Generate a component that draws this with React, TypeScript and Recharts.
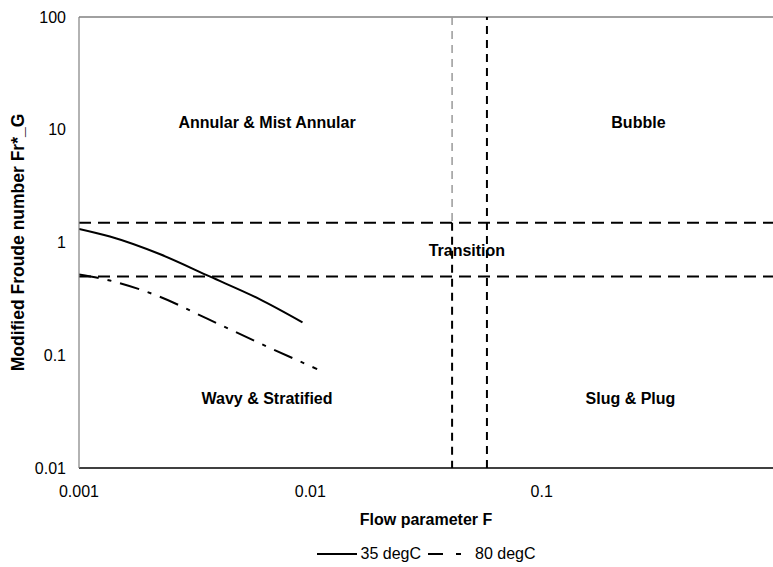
import React from 'react';
import {
  LineChart,
  Line,
  XAxis,
  YAxis,
  ReferenceLine,
  ReferenceDot,
  Legend,
  Label,
} from 'recharts';

// Axis ticks (log scales)
const xTicks = [0.001, 0.01, 0.1];
const yTicks = [0.01, 0.1, 1, 10, 100];

// Flow-pattern curves: flow parameter F vs. modified Froude number Fr*_G
const f35 = [0.001, 0.00136, 0.00223, 0.00367, 0.00603, 0.00925];
const fr35 = [1.32, 1.13, 0.79, 0.5, 0.315, 0.196];
const f80 = [0.001, 0.00136, 0.00223, 0.0036, 0.00603, 0.0107];
const fr80 = [0.52, 0.46, 0.331, 0.21, 0.128, 0.0754];

// Regime boundaries
const frBounds = [1.5, 0.5];
const fBounds = [0.041, 0.058];

// Regime names and where they sit (F, Fr*_G)
const regimeNames = ['Annular & Mist Annular', 'Bubble', 'Transition', 'Wavy & Stratified', 'Slug & Plug'];
const regimeF = [0.0065, 0.262, 0.0475, 0.0065, 0.242];
const regimeFr = [11.7, 11.7, 0.85, 0.041, 0.041];

const series35 = f35.map((x, i) => ({ x, y: fr35[i] }));
const series80 = f80.map((x, i) => ({ x, y: fr80[i] }));

const FONT = 'Arial, "Liberation Sans", sans-serif';

const YTitle = (props: any) => {
  const { viewBox } = props;
  const cx = viewBox.x + 18;
  const cy = viewBox.y + viewBox.height / 2;
  return (
    <text
      x={cx}
      y={cy}
      transform={`rotate(-90 ${cx} ${cy})`}
      textAnchor="middle"
      dominantBaseline="central"
      fontFamily={FONT}
      fontSize={17.5}
      fontWeight="bold"
      fill="#000"
    >
      Modified Froude number Fr*_G
    </text>
  );
};

const XTitle = (props: any) => {
  const { viewBox } = props;
  const cx = viewBox.x + viewBox.width / 2;
  const cy = viewBox.y + 51;
  return (
    <text
      x={cx}
      y={cy}
      textAnchor="middle"
      dominantBaseline="central"
      fontFamily={FONT}
      fontSize={16}
      fontWeight="bold"
      fill="#000"
    >
      Flow parameter F
    </text>
  );
};

const LegendContent = () => (
  <div
    style={{
      display: 'flex',
      justifyContent: 'center',
      alignItems: 'center',
      fontFamily: FONT,
      fontSize: 16,
      color: '#000',
    }}
  >
    <svg width={40} height={10}>
      <line x1={0} y1={5} x2={40} y2={5} stroke="#000" strokeWidth={2} />
    </svg>
    <span style={{ marginLeft: 4, marginRight: 7 }}>35 degC</span>
    <svg width={40} height={10}>
      <line x1={0} y1={5} x2={40} y2={5} stroke="#000" strokeWidth={2} strokeDasharray="15 13 5 20" />
    </svg>
    <span style={{ marginLeft: 7 }}>80 degC</span>
  </div>
);

const RegimeText = (name: string) => (p: any) => (
  <text
    x={p.cx}
    y={p.cy}
    textAnchor="middle"
    dominantBaseline="central"
    fontFamily={FONT}
    fontSize={16}
    fontWeight="bold"
    fill="#000"
  >
    {name}
  </text>
);

export default function App() {
  return (
    <div style={{ position: 'absolute', left: 0, top: 0, background: '#fff' }}>
      <LineChart
        width={773}
        height={567}
        margin={{ top: 17, right: 0, bottom: 0, left: 0 }}
      >
        <XAxis
          type="number"
          dataKey="x"
          scale="log"
          domain={[0.001, 1]}
          ticks={xTicks}
          allowDataOverflow
          tickFormatter={(v: number) => String(v)}
          axisLine={{ stroke: '#000', strokeWidth: 1.5 }}
          tickLine={false}
          tickMargin={12}
          height={81}
          tick={{ fontFamily: FONT, fontSize: 16, fill: '#000' }}
        >
          <Label content={<XTitle />} />
        </XAxis>
        <YAxis
          type="number"
          dataKey="y"
          scale="log"
          domain={[0.01, 100]}
          ticks={yTicks}
          allowDataOverflow
          tickFormatter={(v: number) => String(v)}
          axisLine={{ stroke: '#808080', strokeWidth: 1.2 }}
          tickLine={false}
          tickMargin={7}
          width={79}
          tick={{ fontFamily: FONT, fontSize: 16, fill: '#000' }}
        >
          <Label content={<YTitle />} />
        </YAxis>

        <ReferenceLine y={100} stroke="#808080" strokeWidth={1.5} />

        {frBounds.map((v) => (
          <ReferenceLine key={`h${v}`} y={v} stroke="#000" strokeWidth={2} strokeDasharray="12 7" />
        ))}
        <ReferenceLine
          segment={[{ x: fBounds[0], y: 100 }, { x: fBounds[0], y: frBounds[0] }]}
          stroke="#999"
          strokeWidth={1.5}
          strokeDasharray="8 6"
        />
        <ReferenceLine
          segment={[{ x: fBounds[0], y: frBounds[0] }, { x: fBounds[0], y: 0.01 }]}
          stroke="#000"
          strokeWidth={2}
          strokeDasharray="8 6"
        />
        <ReferenceLine x={fBounds[1]} stroke="#000" strokeWidth={2} strokeDasharray="8 6" />

        {regimeNames.map((name, i) => (
          <ReferenceDot
            key={name}
            x={regimeF[i]}
            y={regimeFr[i]}
            r={0}
            shape={RegimeText(name)}
          />
        ))}

        <Line
          data={series35}
          dataKey="y"
          name="35 degC"
          type="monotone"
          stroke="#000"
          strokeWidth={2}
          dot={false}
          isAnimationActive={false}
        />
        <Line
          data={series80}
          dataKey="y"
          name="80 degC"
          type="monotone"
          stroke="#000"
          strokeWidth={2}
          strokeDasharray="20 9 4 9"
          dot={false}
          isAnimationActive={false}
        />

        <Legend
          content={<LegendContent />}
          wrapperStyle={{ top: 545, left: 79, width: 694 }}
        />
      </LineChart>
    </div>
  );
}
